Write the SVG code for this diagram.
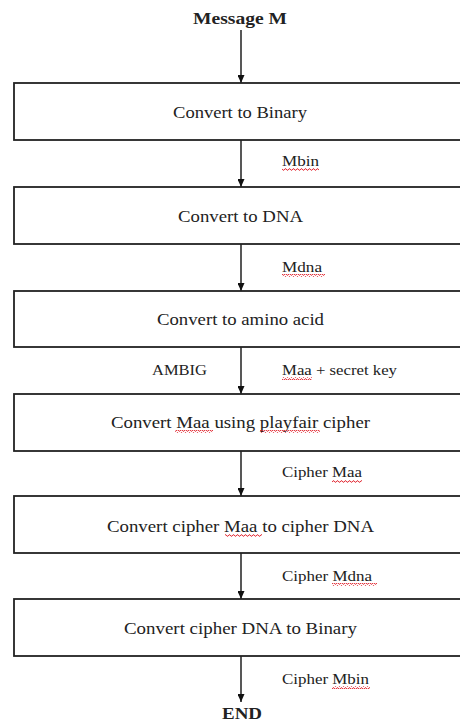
<svg xmlns="http://www.w3.org/2000/svg" width="460" height="723" viewBox="0 0 460 723">
<style>
.t{font-family:"Liberation Serif","DejaVu Serif","Times New Roman",serif;font-size:16px;fill:#222}
.l{font-family:"Liberation Serif","DejaVu Serif","Times New Roman",serif;font-size:15px;fill:#222}
.box{fill:#fff;stroke:#222;stroke-width:1.8}
.b{font-weight:bold}
.c{stroke:#111;stroke-width:1.4;fill:none}
.sq{fill:url(#squig)}
</style>
<defs>
<marker id="ah" viewBox="0 0 8 7" refX="8" refY="3.5" markerWidth="8" markerHeight="7" markerUnits="userSpaceOnUse" orient="auto">
<path d="M0,0 L8,3.5 L0,7 Z" fill="#111"/>
</marker>
<pattern id="squig" patternUnits="userSpaceOnUse" x="0" y="0" width="4" height="3">
<path d="M0,2.2 L1,0.8 L2,0.8 L3,2.2 L4,2.2" stroke="#e0202a" stroke-width="0.9" fill="none"/>
</pattern>
</defs>
<rect width="460" height="723" fill="#fff"/>
<g id="connectors">
<line class="c" x1="241" y1="30" x2="241" y2="83" marker-end="url(#ah)"/>
<line class="c" x1="241" y1="140" x2="241" y2="187" marker-end="url(#ah)"/>
<line class="c" x1="241" y1="244" x2="241" y2="291" marker-end="url(#ah)"/>
<line class="c" x1="241" y1="347" x2="241" y2="394" marker-end="url(#ah)"/>
<line class="c" x1="241" y1="451" x2="241" y2="496" marker-end="url(#ah)"/>
<line class="c" x1="241" y1="553" x2="241" y2="599" marker-end="url(#ah)"/>
<line class="c" x1="241" y1="656" x2="241" y2="702" marker-end="url(#ah)"/>
<text class="l" x="282" y="166" textLength="37" lengthAdjust="spacingAndGlyphs">Mbin</text>
<rect class="sq" x="282" y="168" width="37" height="3"/>
<text class="l" x="282" y="272" textLength="40" lengthAdjust="spacingAndGlyphs">Mdna</text>
<rect class="sq" x="282" y="274" width="43" height="3"/>
<text class="l" x="152" y="375" textLength="55" lengthAdjust="spacingAndGlyphs">AMBIG</text>
<text class="l" x="282" y="375" textLength="115" lengthAdjust="spacingAndGlyphs">Maa + secret key</text>
<rect class="sq" x="282" y="377" width="30" height="3"/>
<text class="l" x="282" y="477" textLength="80" lengthAdjust="spacingAndGlyphs">Cipher Maa</text>
<rect class="sq" x="332" y="480" width="30" height="3"/>
<text class="l" x="282" y="581" textLength="90" lengthAdjust="spacingAndGlyphs">Cipher Mdna</text>
<rect class="sq" x="332" y="583" width="45" height="3"/>
<text class="l" x="282" y="684" textLength="87" lengthAdjust="spacingAndGlyphs">Cipher Mbin</text>
<rect class="sq" x="332" y="686" width="38" height="3"/>
</g>
<g id="start">
<text class="t b" x="193" y="24" textLength="94" lengthAdjust="spacingAndGlyphs">Message M</text>
</g>
<g id="n1">
<rect class="box" x="14" y="83" width="470" height="57"/>
<text class="t" x="173" y="118" textLength="134" lengthAdjust="spacingAndGlyphs">Convert to Binary</text>
</g>
<g id="n2">
<rect class="box" x="14" y="187" width="470" height="57"/>
<text class="t" x="178" y="221.5" textLength="125" lengthAdjust="spacingAndGlyphs">Convert to DNA</text>
</g>
<g id="n3">
<rect class="box" x="14" y="291" width="470" height="56"/>
<text class="t" x="157" y="325" textLength="167" lengthAdjust="spacingAndGlyphs">Convert to amino acid</text>
</g>
<g id="n4">
<rect class="box" x="14" y="394" width="470" height="57"/>
<text class="t" x="111" y="428" textLength="259" lengthAdjust="spacingAndGlyphs">Convert Maa using playfair cipher</text>
<rect class="sq" x="175" y="430" width="38" height="3"/>
<rect class="sq" x="260" y="430" width="60" height="3"/>
</g>
<g id="n5">
<rect class="box" x="14" y="496" width="470" height="57"/>
<text class="t" x="107" y="532" textLength="267" lengthAdjust="spacingAndGlyphs">Convert cipher Maa to cipher DNA</text>
<rect class="sq" x="225" y="534" width="37" height="3"/>
</g>
<g id="n6">
<rect class="box" x="14" y="599" width="470" height="57"/>
<text class="t" x="124" y="634" textLength="233" lengthAdjust="spacingAndGlyphs">Convert cipher DNA to Binary</text>
</g>
<g id="end">
<text class="t b" x="222" y="719" textLength="40" lengthAdjust="spacingAndGlyphs">END</text>
</g>
</svg>
